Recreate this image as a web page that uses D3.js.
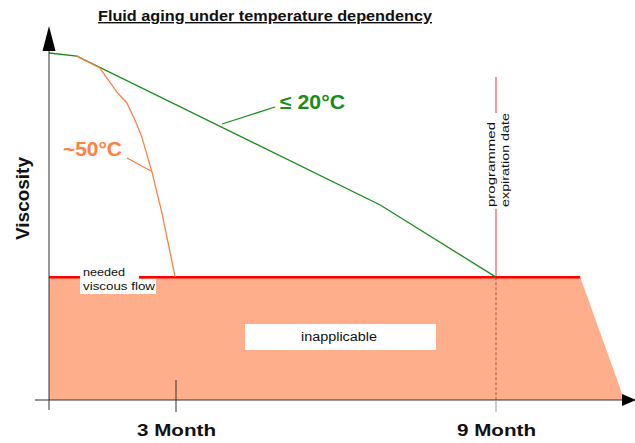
<!DOCTYPE html>
<html>
<head>
<meta charset="utf-8">
<script src="https://cdn.jsdelivr.net/npm/d3@7"></script>
<style>
  body { margin: 0; background: #fff; }
  text { font-family: "Liberation Sans", Arial, sans-serif; }
</style>
</head>
<body>
<div id="canvas"></div>
<script>
"use strict"

/* data: months on x, relative viscosity (0-100) on y */
let monthTicks = [3, 9];
let tickLabels = ["3 Month", "9 Month"];

let coolMonths = [0, 0.66, 6.83, 9];
let coolViscosity = [100, 99.1, 56.2, 35.4];

let warmMonths = [0.66, 1.2, 1.6, 1.84, 2.03, 2.19, 2.43, 2.66, 2.98];
let warmViscosity = [99.1, 95.7, 88.8, 85.6, 80.7, 75.9, 65.8, 54.3, 35.5];

let neededViscosity = 35.4;
let neededEndMonth = 10.58;
let zoneEndMonth = 11.36;
let expirationMonth = 9;

let drawing = d3.select("#canvas")
    .append("svg")
    .attr("width", 635)
    .attr("height", 443);

/* the month axis is not even in the original: 0-3 is squeezed, 3-9 stretched */
let x = d3.scaleLinear()
    .domain([0, 3, 9])
    .range([49, 176, 496]);

let y = d3.scaleLinear()
    .domain([0, 100])
    .range([400, 53]);

let line = d3.line()
    .x(d => x(d[0]))
    .y(d => y(d[1]));

/* inapplicable zone below needed viscosity */
let zone = drawing.append("polygon")
    .attr("points", [
        [x(0), y(neededViscosity)],
        [x(neededEndMonth), y(neededViscosity)],
        [x(zoneEndMonth), y(0) - 7],
        [x(zoneEndMonth), y(0)],
        [x(0), y(0)]
    ].map(p => p.join(",")).join(" "))
    .attr("fill", "#ffae8c");

let inapplicableBox = drawing.append("rect")
    .attr("x", 245)
    .attr("y", 324)
    .attr("width", 191)
    .attr("height", 26)
    .attr("fill", "white");

drawing.append("text")
    .attr("x", 301)
    .attr("y", 341)
    .attr("font-size", 12.5)
    .attr("textLength", 76)
    .attr("lengthAdjust", "spacingAndGlyphs")
    .attr("fill", "#111")
    .text("inapplicable");

/* expiration date marker */
let expX = x(expirationMonth);
drawing.append("line")
    .attr("x1", expX).attr("x2", expX)
    .attr("y1", 77).attr("y2", 113)
    .attr("stroke", "#f07878").attr("stroke-width", 1.5);
drawing.append("line")
    .attr("x1", expX).attr("x2", expX)
    .attr("y1", 209).attr("y2", y(neededViscosity))
    .attr("stroke", "#f07878").attr("stroke-width", 1.5);
drawing.append("line")
    .attr("x1", expX).attr("x2", expX)
    .attr("y1", y(neededViscosity)).attr("y2", y(0))
    .attr("stroke", "#c0604a").attr("stroke-width", 1.2)
    .attr("stroke-dasharray", "3,2");

let expLabel = drawing.append("text")
    .attr("transform", `translate(${expX}, 207) rotate(-90)`)
    .attr("font-size", 11.5)
    .attr("fill", "#111");
expLabel.append("tspan").attr("x", 0).attr("y", -1)
    .attr("textLength", 85).attr("lengthAdjust", "spacingAndGlyphs")
    .text("programmed");
expLabel.append("tspan").attr("x", 0).attr("y", 13)
    .attr("textLength", 94).attr("lengthAdjust", "spacingAndGlyphs")
    .text("expiration date");

/* needed viscous flow threshold */
drawing.append("line")
    .attr("x1", x(0)).attr("x2", x(neededEndMonth))
    .attr("y1", y(neededViscosity)).attr("y2", y(neededViscosity))
    .attr("stroke", "#ff0000").attr("stroke-width", 2.5);

drawing.append("rect")
    .attr("x", 80).attr("y", 264)
    .attr("width", 59).attr("height", 16)
    .attr("fill", "white");
drawing.append("rect")
    .attr("x", 80).attr("y", 279)
    .attr("width", 76).attr("height", 15)
    .attr("fill", "white");
drawing.append("text")
    .attr("x", 83).attr("y", 276)
    .attr("font-size", 11.5).attr("fill", "#111")
    .attr("textLength", 42).attr("lengthAdjust", "spacingAndGlyphs")
    .text("needed");
drawing.append("text")
    .attr("x", 83).attr("y", 290)
    .attr("font-size", 11.5).attr("fill", "#111")
    .attr("textLength", 72).attr("lengthAdjust", "spacingAndGlyphs")
    .text("viscous flow");

/* curves */
let coolLine = drawing.append("path")
    .attr("d", line(d3.zip(coolMonths, coolViscosity)))
    .attr("fill", "none")
    .attr("stroke", "#1a8c1a")
    .attr("stroke-width", 1.3);

let warmLine = drawing.append("path")
    .attr("d", line(d3.zip(warmMonths, warmViscosity)))
    .attr("fill", "none")
    .attr("stroke", "#ff8040")
    .attr("stroke-width", 1.3);

/* curve labels with leader lines */
drawing.append("line")
    .attr("x1", 222).attr("y1", 124).attr("x2", 275).attr("y2", 107)
    .attr("stroke", "#1a8c1a").attr("stroke-width", 1.3);
drawing.append("text")
    .attr("x", 280).attr("y", 109)
    .attr("font-size", 19.5).attr("font-weight", "bold")
    .attr("textLength", 65).attr("lengthAdjust", "spacingAndGlyphs")
    .attr("fill", "#1a8c1a")
    .text("≤ 20°C");

drawing.append("line")
    .attr("x1", 127).attr("y1", 158).attr("x2", 151).attr("y2", 171)
    .attr("stroke", "#ff8040").attr("stroke-width", 1.3);
drawing.append("text")
    .attr("x", 63).attr("y", 156)
    .attr("font-size", 19.5).attr("font-weight", "bold")
    .attr("textLength", 59).attr("lengthAdjust", "spacingAndGlyphs")
    .attr("fill", "#ff8040")
    .text("~50°C");

/* axes */
let axisColor = "#333";
drawing.append("line")
    .attr("x1", x(0)).attr("x2", x(0))
    .attr("y1", 48).attr("y2", 410)
    .attr("stroke", axisColor);
drawing.append("polygon")
    .attr("points", closedArrow(x(0), 26, "up"))
    .attr("fill", "black");

drawing.append("line")
    .attr("x1", 35).attr("x2", 624)
    .attr("y1", y(0)).attr("y2", y(0))
    .attr("stroke", axisColor);
drawing.append("polygon")
    .attr("points", closedArrow(636, y(0), "right"))
    .attr("fill", "black");

/* ticks */
drawing.selectAll(".tick")
    .data(monthTicks)
    .enter()
    .append("line")
    .attr("x1", d => x(d)).attr("x2", d => x(d))
    .attr("y1", d => d === expirationMonth ? y(0) : 380)
    .attr("y2", 412)
    .attr("stroke", d => d === expirationMonth ? "#999" : axisColor);

drawing.selectAll(".tickLabel")
    .data(monthTicks)
    .enter()
    .append("text")
    .attr("x", d => x(d) - 39)
    .attr("y", 436)
    .attr("font-size", 16.5)
    .attr("font-weight", "bold")
    .attr("textLength", 79)
    .attr("lengthAdjust", "spacingAndGlyphs")
    .attr("fill", "#111")
    .text((d, i) => tickLabels[i]);

drawing.append("text")
    .attr("transform", "translate(29, 240) rotate(-90)")
    .attr("font-size", 18)
    .attr("font-weight", "bold")
    .attr("textLength", 83)
    .attr("lengthAdjust", "spacingAndGlyphs")
    .attr("fill", "#111")
    .text("Viscosity");

/* title */
drawing.append("text")
    .attr("x", 98).attr("y", 21)
    .attr("font-size", 14)
    .attr("font-weight", "bold")
    .attr("text-decoration", "underline")
    .attr("textLength", 334)
    .attr("lengthAdjust", "spacingAndGlyphs")
    .attr("fill", "#111")
    .text("Fluid aging under temperature dependency");

function closedArrow(tipX, tipY, dir) {
    if (dir === "up") {
        return [[tipX, tipY], [tipX + 6.5, tipY + 25], [tipX - 6.5, tipY + 25]]
            .map(p => p.join(",")).join(" ");
    }
    return [[tipX, tipY], [tipX - 14, tipY - 6], [tipX - 14, tipY + 6]]
        .map(p => p.join(",")).join(" ");
}
</script>
</body>
</html>
